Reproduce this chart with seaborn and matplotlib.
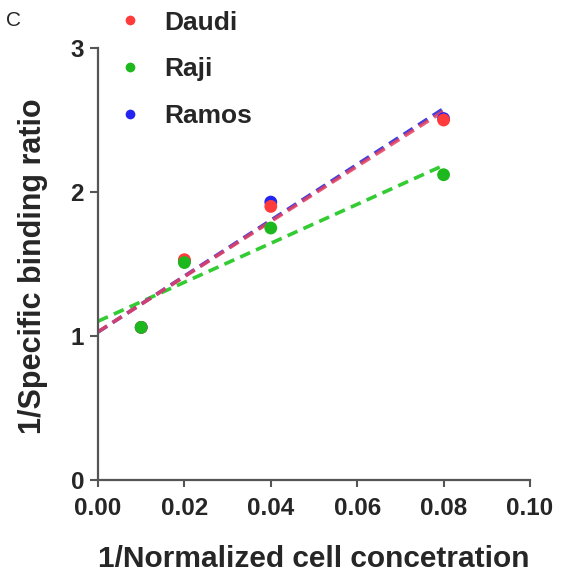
import numpy as np
import pandas as pd
import matplotlib
matplotlib.use("Agg")
import matplotlib.pyplot as plt
import seaborn as sns

x_vals = [0.01, 0.02, 0.04, 0.08]
daudi = [1.06, 1.53, 1.90, 2.50]
raji = [1.06, 1.51, 1.75, 2.12]
ramos = [1.06, 1.52, 1.93, 2.51]
cells = ["Daudi", "Raji", "Ramos"]
colors = {"Daudi": "#FF3B3B", "Raji": "#1DB81D", "Ramos": "#2424F0"}
line_colors = {"Daudi": "#E8405C", "Raji": "#33CC33", "Ramos": "#4040E0"}

sns.set_style("ticks")
plt.rcParams['font.family'] = ['Liberation Sans', 'DejaVu Sans']

fig = plt.figure(figsize=(5.61, 5.75), dpi=100)
ax = fig.add_axes([0.1747, 0.1652, 0.770, 0.7513])

series = {"Daudi": daudi, "Raji": raji, "Ramos": ramos}
frames = []
for c in cells:
    frames.append(pd.DataFrame({"x": x_vals, "y": series[c], "cell": c}))
df = pd.concat(frames, ignore_index=True)

# fit lines from x=0 to 0.08
xx = np.array([0.0, 0.08])
for c in ["Raji", "Ramos", "Daudi"]:
    k, b = np.polyfit(x_vals, series[c], 1)
    ldf = pd.DataFrame({"x": xx, "y": k * xx + b})
    sns.lineplot(data=ldf, x="x", y="y", ax=ax, color=line_colors[c],
                 linestyle=(0, (3, 1.8)), linewidth=2.6,
                 alpha=0.85 if c == "Daudi" else 1.0, legend=False)

# points: Ramos under Daudi, Raji on top
for c in ["Ramos", "Daudi", "Raji"]:
    sub = df[df["cell"] == c]
    sns.scatterplot(data=sub, x="x", y="y", ax=ax, color=colors[c], s=85,
                    edgecolor="none", legend=False, zorder=3)

ax.set_xlim(0, 0.1)
ax.set_ylim(0, 3)
ax.set_xticks(np.arange(0, 0.101, 0.02))
ax.set_xticklabels([f"{v:.2f}" for v in np.arange(0, 0.101, 0.02)])
ax.set_yticks([0, 1, 2, 3])
for s in ["top", "right"]:
    ax.spines[s].set_visible(False)
for s in ["left", "bottom"]:
    ax.spines[s].set_color("#555555")
    ax.spines[s].set_linewidth(1.6)
ax.tick_params(axis="x", length=5, width=1.5, color="#555555",
               labelsize=17.5, pad=7)
ax.tick_params(axis="y", length=6, width=1.5, color="#555555",
               labelsize=17.5, pad=4)
for lab in ax.get_xticklabels() + ax.get_yticklabels():
    lab.set_fontweight("bold")
ax.set_xlabel("1/Normalized cell concetration", fontsize=21.5, fontweight="bold", labelpad=18)
ax.set_ylabel("1/Specific binding ratio", fontsize=22, fontweight="bold")
ax.yaxis.set_label_coords(-0.15, 0.495)
ax.yaxis.label.set_va("center")

# legend
handles = [plt.Line2D([], [], marker="o", linestyle="none", markersize=7,
                      markerfacecolor=colors[c], markeredgecolor="none") for c in cells]
leg = fig.legend(handles, cells, loc="upper left", bbox_to_anchor=(0.19, 1.0),
                 frameon=False, prop={"size": 19, "weight": "bold"},
                 labelspacing=0.86, handlelength=1.0, handletextpad=0.8,
                 borderaxespad=0.0)

fig.text(0.01, 0.965, "C", fontsize=15, va="center", ha="left")

fig.savefig("out.png", dpi=100)
